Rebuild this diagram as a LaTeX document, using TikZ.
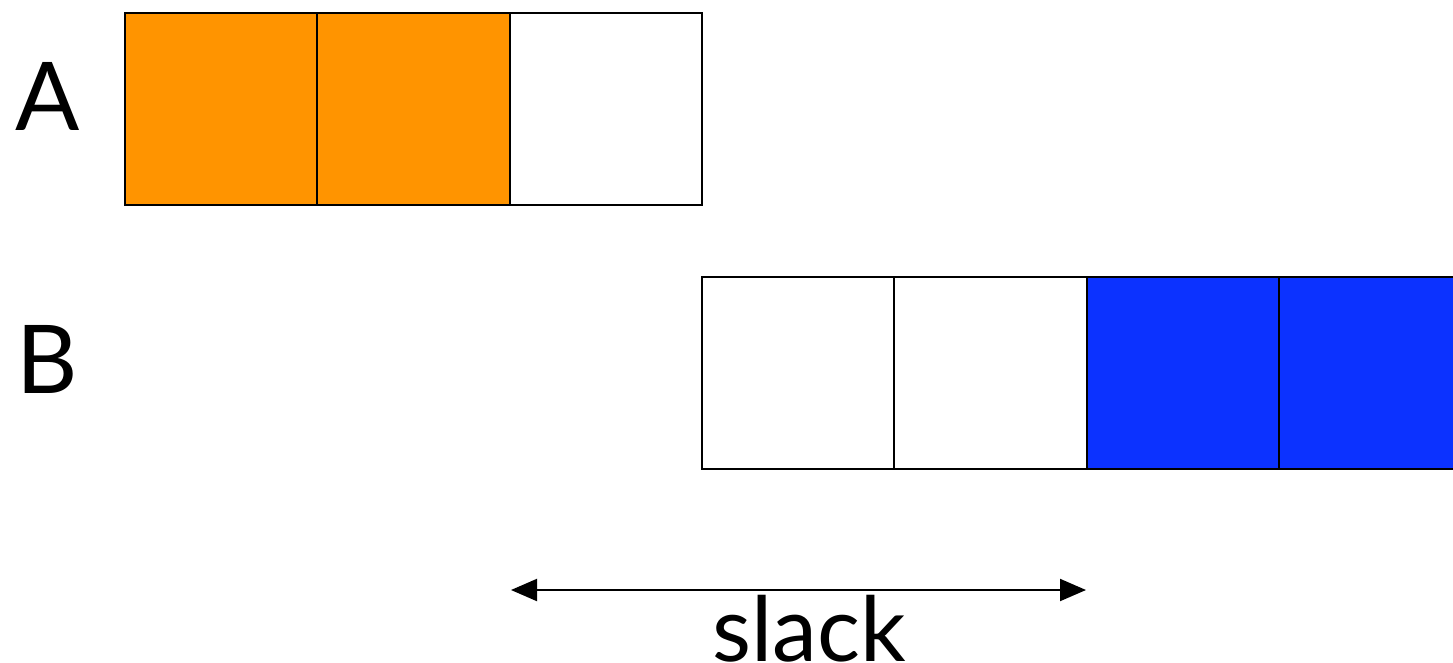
\documentclass[tikz,border=0pt]{standalone}
\usepackage{fontspec}
\setmainfont{Lato}
\usetikzlibrary{arrows.meta}
\definecolor{cellorange}{RGB}{255,148,0}
\definecolor{cellblue}{RGB}{12,50,255}
\begin{document}
\begin{tikzpicture}[x=1pt,y=-1pt,
  cell/.style={draw=black, line width=2pt, minimum width=192.4pt, minimum height=192pt, inner sep=0pt, outer sep=0pt},
  bigtext/.style={font=\fontsize{95}{110}\selectfont, inner sep=0pt, anchor=base},
  slackarrow/.style={line width=2pt, {Triangle[length=26pt,width=22pt]}-{Triangle[length=26pt,width=22pt]}}]
\useasboundingbox (0,0) rectangle (1453,662);
\clip (0,0) rectangle (1453,662);
% row A
\node[cell, fill=cellorange] (a1) at (221.2,109) {};
\node[cell, fill=cellorange] (a2) at (413.6,109) {};
\node[cell, fill=white] (a3) at (606,109) {};
% row B
\node[cell, fill=white] (b1) at (798.2,372.5) {};
\node[cell, fill=white] (b2) at (990.6,372.5) {};
\node[cell, fill=cellblue] (b3) at (1183,372.5) {};
\node[cell, fill=cellblue] (b4) at (1375.4,372.5) {};
% labels
\node[bigtext] (la) at (48,130) {A};
\node[bigtext] (lb) at (47,393) {B};
% slack
\coordinate (sl) at (511,590);
\coordinate (sr) at (1086,590);
\draw[slackarrow] (sl) -- (sr);
\node[bigtext, font=\fontsize{90}{100}\selectfont] (slack) at (809,661) {slack};
\end{tikzpicture}
\end{document}
